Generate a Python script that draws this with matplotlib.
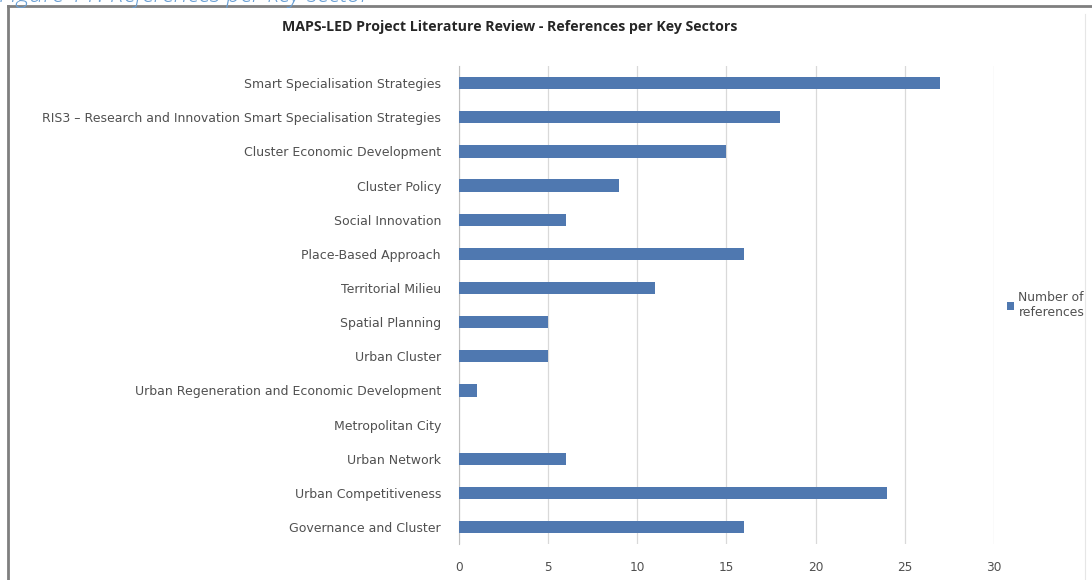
import matplotlib.pyplot as plt
from matplotlib.lines import Line2D

# references found per key sector (top to bottom as listed)
sectors = [
    "Smart Specialisation Strategies",
    "RIS3 \u2013 Research and Innovation Smart Specialisation Strategies",
    "Cluster Economic Development",
    "Cluster Policy",
    "Social Innovation",
    "Place-Based Approach",
    "Territorial Milieu",
    "Spatial Planning",
    "Urban Cluster",
    "Urban Regeneration and Economic Development",
    "Metropolitan City",
    "Urban Network",
    "Urban Competitiveness",
    "Governance and Cluster",
]
references = [27, 18, 15, 9, 6, 16, 11, 5, 5, 1, 0, 6, 24, 16]
x_ticks = [0, 5, 10, 15, 20, 25, 30]

title = "MAPS-LED Project Literature Review - References per Key Sectors"
caption = "Figure 11: References per key sector"
series_name = "Number of\nreferences"

plt.rcParams["font.family"] = ["DejaVu Sans"]

fig = plt.figure(figsize=(10.92, 5.80), dpi=100)
ax = fig.add_axes([0.4203, 0.062, 0.4899, 0.824])

pos = list(range(len(sectors)))
ax.barh(pos, references, height=0.36, color="#4f78b0", label=series_name, zorder=3)
ax.set_ylim(len(sectors) - 0.5, -0.5)
ax.set_yticks(pos)
ax.set_yticklabels(sectors, fontsize=9, color="#505050")
ax.set_xlim(0, 30)
ax.set_xticks(x_ticks)
ax.set_xticklabels([str(t) for t in x_ticks], fontsize=8.7, color="#505050")
ax.tick_params(axis="y", length=0, pad=13)
ax.tick_params(axis="x", length=0, pad=12)
ax.grid(axis="x", color="#d9d9d9", linewidth=0.9, zorder=0)
for side in ("top", "right", "bottom"):
    ax.spines[side].set_visible(False)
ax.spines["left"].set_color("#bfbfbf")

ax.set_title(title, fontsize=10.2, fontweight="bold", color="#262626",
             family="Open Sans", x=0.095, pad=25)

ax.legend(loc="center left", bbox_to_anchor=(1.003, 0.5), frameon=False,
          fontsize=8.9, handlelength=0.6, handleheight=0.6,
          handletextpad=0.35, labelcolor="#505050")

# document caption, cut off at the top edge
fig.text(-0.001, 1 - 2.5 / 580, caption, fontsize=18, style="italic",
         family="Open Sans", color="#6a9fd4", va="baseline", ha="left",
         fontweight="light")

# frame around the chart object
fig.add_artist(Line2D([8 / 1092, 1.0], [1 - 6 / 580, 1 - 6 / 580],
                      transform=fig.transFigure, color="#7f7f7f", linewidth=2))
fig.add_artist(Line2D([8 / 1092, 8 / 1092], [0.0, 1 - 6 / 580],
                      transform=fig.transFigure, color="#7f7f7f", linewidth=2))
fig.add_artist(Line2D([1085 / 1092, 1085 / 1092], [0.0, 1 - 14 / 580],
                      transform=fig.transFigure, color="#e6e6e6", linewidth=0.8))

fig.savefig("out.png", dpi=100)
